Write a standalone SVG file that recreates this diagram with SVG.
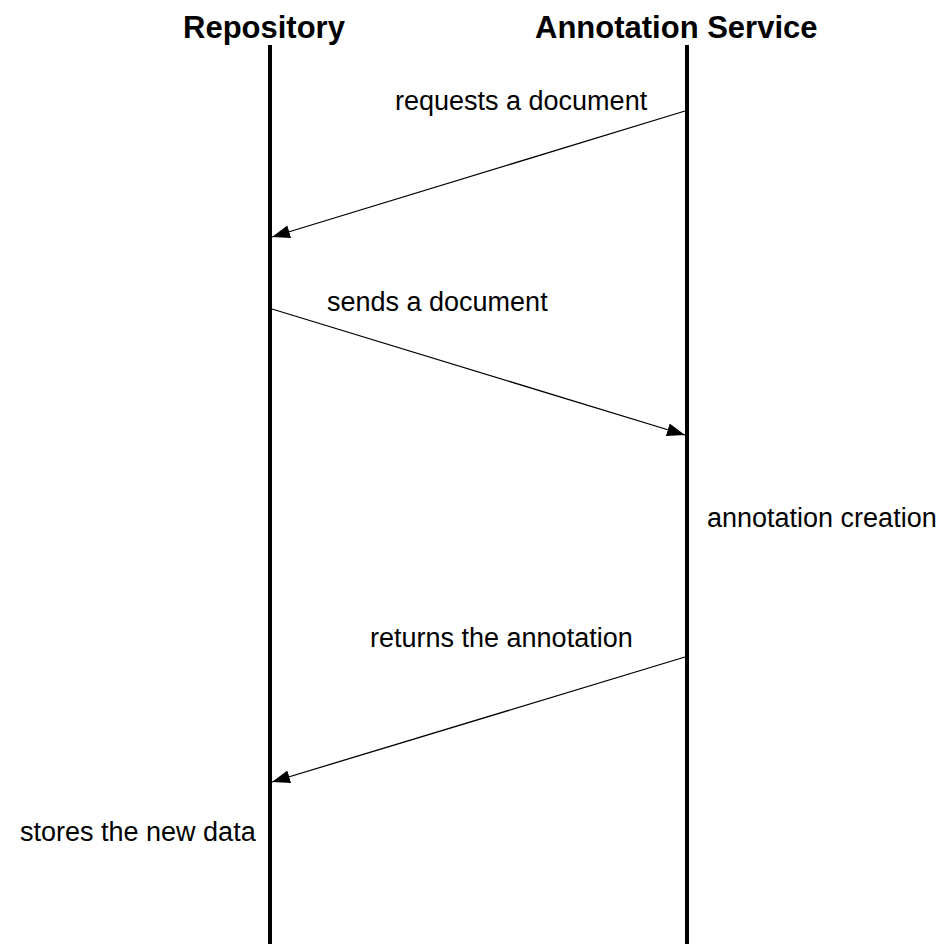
<svg xmlns="http://www.w3.org/2000/svg" width="942" height="944" viewBox="0 0 942 944">
  <style>
    .title { font-family: "Liberation Sans", Arial, sans-serif; font-size: 31px; font-weight: bold; fill: #000; }
    .label { font-family: "Liberation Sans", Arial, sans-serif; font-size: 27px; fill: #000; }
    .lifeline { stroke: #000; stroke-width: 4; fill: none; }
    .msg { stroke: #000; stroke-width: 1.3; fill: none; marker-end: url(#arrow); }
  </style>
  <defs>
    <marker id="arrow" markerUnits="userSpaceOnUse" markerWidth="19" markerHeight="13" refX="18" refY="6.5" orient="auto">
      <path d="M0,0 L18,6.5 L0,13 Z" fill="#000"/>
    </marker>
  </defs>
  <rect width="942" height="944" fill="#fff"/>

  <!-- participants with their lifelines -->
  <g id="repository">
    <text class="title" x="183" y="38">Repository</text>
    <line class="lifeline" x1="270" y1="45" x2="270" y2="944"/>
  </g>
  <g id="annotation-service">
    <text class="title" x="535" y="38">Annotation Service</text>
    <line class="lifeline" x1="687" y1="45" x2="687" y2="944"/>
  </g>

  <!-- messages -->
  <g id="connectors">
    <line class="msg" x1="685" y1="111" x2="272" y2="237"/>
    <line class="msg" x1="272" y1="309" x2="685" y2="435"/>
    <line class="msg" x1="685" y1="657" x2="272" y2="782"/>
  </g>

  <!-- message and activity labels -->
  <g id="labels">
    <text class="label" x="395" y="110">requests a document</text>
    <text class="label" x="327" y="311">sends a document</text>
    <text class="label" x="707" y="527">annotation creation</text>
    <text class="label" x="370" y="647">returns the annotation</text>
    <text class="label" x="20" y="841">stores the new data</text>
  </g>
</svg>
